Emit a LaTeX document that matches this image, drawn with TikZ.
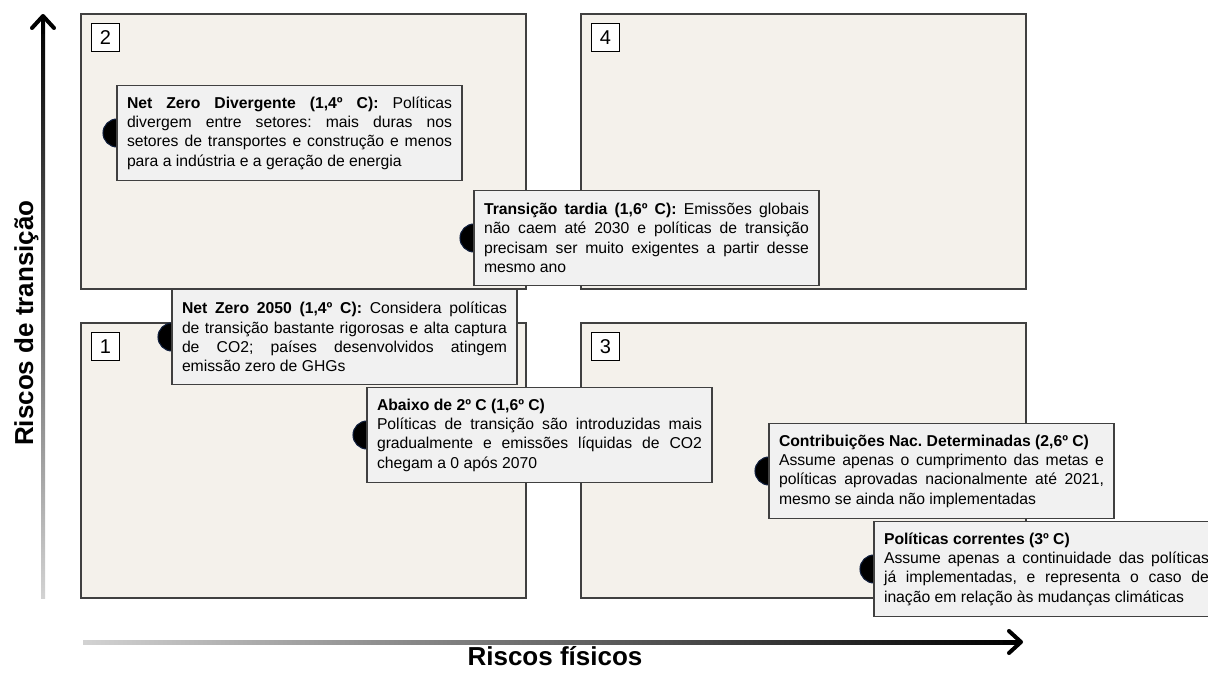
\documentclass[tikz,border=0pt]{standalone}
\usepackage{fontspec}
\setmainfont{Liberation Sans}
\usetikzlibrary{arrows.meta}
\usetikzlibrary{calc}

\definecolor{quadfill}{RGB}{244,241,235}
\definecolor{boxfill}{RGB}{241,241,241}
\definecolor{edgegray}{RGB}{64,64,64}
\definecolor{dotedge}{RGB}{15,30,60}

\tolerance=9999
\hbadness=10000
\frenchspacing

\begin{document}
\begin{tikzpicture}[x=0.75pt,y=-0.75pt]
  \tikzset{quad/.style = {shape=rectangle,draw=edgegray,fill=quadfill,line width=1.3pt,minimum width=333.75pt,minimum height=206.25pt,inner sep=0pt,outer sep=0pt,anchor=north west}}
  \tikzset{numbox/.style = {shape=rectangle,draw,fill=white,line width=0.7pt,minimum size=21pt,inner sep=0pt,font=\fontsize{15}{15}\selectfont,anchor=north west}}
  \tikzset{scen/.style = {shape=rectangle,draw=edgegray,fill=boxfill,line width=1pt,text width=243.75pt,inner xsep=7.5pt,inner ysep=3pt,minimum height=71.25pt,outer sep=0pt,align=justify,anchor=west,font=\fontsize{11.8}{14.5}\selectfont}}
  \tikzset{dot/.style = {shape=circle,draw=dotedge,fill=black,line width=0.8pt,minimum size=21pt,inner sep=0pt}}
  \tikzset{axislabel/.style = {font=\fontsize{19.5}{20}\selectfont\bfseries}}
  \tikzset{axishead/.style = {line width=3pt,-{Straight Barb[length=9pt,width=16.5pt,round]}}}

  \useasboundingbox (0,0) rectangle (1208,675);

  % quadrants
  \foreach \n/\x/\y in {2/81/14, 4/581/14, 1/81/323, 3/581/323}{
    \node[quad] (q\n) at (\x,\y) {};
    \node[numbox] (n\n) at ([shift={(10,9)}]q\n.north west) {\n};
  }

  % axes
  \coordinate (yfrom) at (43,598);
  \coordinate (yto) at (43,14);
  \coordinate (xfrom) at (83,642);
  \coordinate (xto) at (1023,642);
  \shade[bottom color=gray!35,top color=black] ($(yfrom)+(-2,0)$) rectangle ($(yto)+(2,6)$);
  \shade[left color=gray!35,right color=black] ($(xfrom)+(0,-2)$) rectangle ($(xto)+(-6,2)$);
  \draw[axishead] ($(yto)+(0,20)$) -- (yto);
  \draw[axishead] ($(xto)+(-20,0)$) -- (xto);

  \node[axislabel,anchor=base] (xlab) at (555,665) {Riscos físicos};
  \node[axislabel,anchor=base,rotate=90] (ylab) at (33,323) {Riscos de transição};

  % scenarios
  \foreach \s/\x/\y in {A/117/133, B/474/238, C/172/337, D/367/435, E/769/471, F/874/569}
    \node[dot] (d\s) at (\x,\y) {};

  \node[scen] (sA) at (dA.center) {\textbf{Net Zero Divergente (1,4º C):} Políticas\linebreak divergem entre setores: mais duras nos\linebreak setores de transportes e construção e menos\linebreak para a indústria e a geração de energia};
  \node[scen] (sB) at (dB.center) {\textbf{Transição tardia (1,6º C):} Emissões globais\linebreak não caem até 2030 e políticas de transição\linebreak precisam ser muito exigentes a partir desse\linebreak mesmo ano};
  \node[scen] (sC) at (dC.center) {\textbf{Net Zero 2050 (1,4º C):} Considera políticas\linebreak de transição bastante rigorosas e alta captura\linebreak de CO2; países desenvolvidos atingem\linebreak emissão zero de GHGs};
  \node[scen] (sD) at (dD.center) {\textbf{Abaixo de 2º C (1,6º C)}\\ Políticas de transição são introduzidas mais\linebreak gradualmente e emissões líquidas de CO2\linebreak chegam a 0 após 2070};
  \node[scen] (sE) at (dE.center) {\textbf{Contribuições Nac. Determinadas (2,6º C)}\\ Assume apenas o cumprimento das metas e\linebreak políticas aprovadas nacionalmente até 2021,\linebreak mesmo se ainda não implementadas};
  \node[scen] (sF) at (dF.center) {\textbf{Políticas correntes (3º C)}\\ Assume apenas a continuidade das políticas\linebreak já implementadas, e representa o caso de\linebreak inação em relação às mudanças climáticas};
\end{tikzpicture}
\end{document}
